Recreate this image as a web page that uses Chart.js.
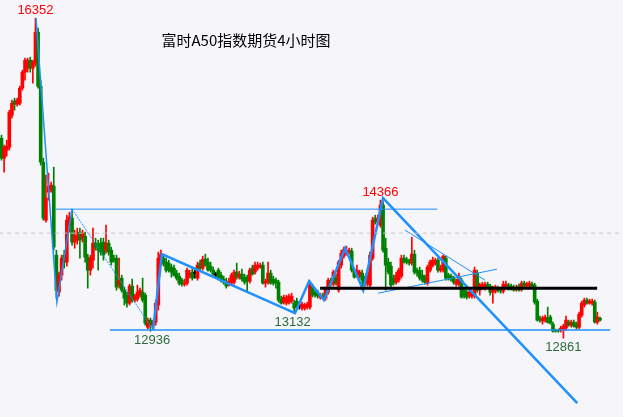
<!DOCTYPE html>
<html>
<head>
<meta charset="utf-8">
<script src="https://cdn.jsdelivr.net/npm/chart.js@4.4.1/dist/chart.umd.min.js"></script>
<style>
  html, body { margin: 0; padding: 0; background: #f5f5fa; }
  #wrap { width: 623px; height: 417px; position: relative; }
</style>
</head>
<body>
<div id="wrap"><canvas id="chart"></canvas></div>
<script>
// 富时A50 4-hour candles (oldest first)
const opens = [
  15042,14824,14912,14944,15293,15446,15413,15424,15588,15763,
  15806,15893,15806,15861,16199,15610,14781,14148,14453,14475,
  14519,13766,13362,13548,13766,13690,14093,14170,13908,13930,
  14017,13951,13973,13744,13602,13711,13897,13875,13897,13908,
  13820,13897,13820,13733,13733,13439,13515,13384,13330,13242,
  13428,13275,13286,13330,13362,13330,12980,13057,13002,13035,
  13221,13711,13733,13690,13679,13635,13624,13570,13537,13493,
  13449,13460,13537,13581,13570,13515,13679,13624,13722,13690,
  13646,13602,13548,13602,13548,13504,13482,13449,13460,13471,
  13581,13526,13559,13526,13526,13482,13624,13581,13624,13646,
  13657,13460,13471,13570,13504,13493,13471,13286,13253,13242,
  13253,13264,13242,13264,13210,13188,13188,13199,13199,13417,
  13362,13351,13308,13319,13297,13362,13482,13449,13515,13384,
  13657,13755,13788,13799,13810,13602,13548,13537,13570,13504,
  13460,13439,13733,14170,14126,14093,14312,13842,13690,13646,
  13515,13471,13493,13537,13733,13722,13700,13679,13777,13602,
  13602,13548,13526,13460,13602,13657,13679,13711,13602,13602,
  13733,13548,13537,13515,13449,13449,13493,13384,13362,13319,
  13319,13319,13570,13384,13417,13406,13449,13428,13362,13373,
  13406,13395,13373,13417,13439,13428,13417,13395,13428,13395,
  13460,13428,13428,13449,13439,13264,13079,13046,13057,13079,
  13090,13013,12948,12948,12948,12948,12970,13035,13002,13035,
  13013,12980,13111,13221,13275,13242,13242,13253,13035,13079
];
const highs = [
  15075,14966,15021,15348,15457,15479,15479,15610,15784,15915,
  15915,15926,15893,16352,16243,15675,14824,14639,14661,14562,
  14726,13820,13581,13766,13820,14202,14235,14268,14039,14060,
  14060,14039,14017,13777,13766,14060,13951,13930,13951,13951,
  14093,13930,13853,13766,13766,13733,13548,13417,13362,13449,
  13504,13340,13439,13406,13515,13351,13079,13079,13057,13275,
  13799,13820,13766,13733,13711,13668,13657,13602,13570,13515,
  13504,13624,13602,13624,13624,13690,13711,13755,13777,13733,
  13690,13635,13581,13624,13581,13537,13515,13515,13570,13602,
  13679,13591,13613,13559,13548,13624,13657,13690,13690,13679,
  13690,13504,13690,13602,13537,13515,13493,13319,13330,13330,
  13340,13351,13275,13297,13242,13253,13242,13253,13482,13449,
  13395,13384,13351,13351,13417,13515,13515,13602,13559,13711,
  13820,13853,13864,13842,13842,13624,13657,13602,13602,13537,
  13602,13799,14181,14202,14202,14366,14344,13951,13733,13690,
  13548,13581,13624,13766,13766,13744,13722,13962,13820,13624,
  13635,13602,13548,13657,13711,13744,13733,13733,13657,13766,
  13755,13570,13559,13537,13504,13570,13515,13417,13384,13384,
  13362,13635,13602,13460,13471,13471,13471,13449,13428,13439,
  13428,13417,13482,13482,13460,13449,13439,13439,13449,13482,
  13482,13471,13482,13471,13460,13286,13101,13101,13111,13199,
  13111,13035,12959,12959,12991,13013,13101,13057,13057,13057,
  13035,13144,13264,13297,13297,13286,13286,13275,13144,13090
];
const lows = [
  14802,14672,14846,14912,15261,15348,15392,15403,15566,15675,
  15763,15763,15643,15828,15588,14748,14148,14126,14366,14453,
  13820,13297,13319,13493,13624,13646,14017,13875,13842,13886,
  13733,13908,13690,13406,13548,13624,13820,13602,13766,13711,
  13788,13766,13657,13690,13384,13406,13362,13221,13199,13221,
  13253,13253,13264,13308,13253,13002,12959,12936,12970,13002,
  13166,13679,13646,13581,13581,13526,13537,13493,13439,13428,
  13428,13439,13515,13493,13515,13493,13602,13602,13646,13591,
  13581,13537,13515,13493,13471,13449,13406,13428,13439,13449,
  13504,13504,13482,13449,13362,13460,13548,13559,13602,13624,
  13449,13417,13449,13449,13439,13406,13253,13231,13231,13221,
  13231,13242,13132,13177,13177,13166,13166,13177,13177,13308,
  13308,13297,13286,13286,13275,13340,13428,13428,13439,13362,
  13624,13733,13766,13777,13581,13515,13526,13515,13384,13428,
  13428,13417,13711,14104,14104,14071,13799,13384,13559,13417,
  13439,13449,13471,13515,13679,13668,13657,13657,13559,13537,
  13493,13471,13449,13439,13581,13635,13657,13581,13581,13581,
  13493,13493,13482,13449,13428,13428,13297,13297,13286,13297,
  13297,13297,13362,13330,13395,13384,13406,13330,13242,13351,
  13362,13351,13351,13395,13384,13384,13373,13373,13373,13373,
  13417,13406,13406,13406,13231,13046,13035,13013,13035,13024,
  13013,12926,12926,12926,12926,12861,12948,12991,12980,12980,
  12959,12959,13090,13199,13231,13231,13221,13024,13013,13046
];
const closes = [
  14824,14944,14955,15326,15424,15413,15457,15588,15763,15893,
  15893,15806,15872,16199,15610,14781,14170,14388,14519,14530,
  13853,13384,13548,13733,13690,14148,14181,13908,13984,13973,
  13930,14006,13744,13602,13733,13897,13853,13820,13799,13766,
  13897,13799,13690,13711,13417,13493,13384,13297,13242,13428,
  13275,13319,13362,13384,13275,13024,13057,13002,13035,13242,
  13733,13777,13668,13602,13602,13581,13548,13515,13460,13449,
  13460,13602,13570,13515,13570,13657,13624,13722,13657,13602,
  13602,13559,13548,13515,13493,13471,13428,13482,13548,13581,
  13526,13559,13504,13471,13482,13602,13559,13657,13657,13657,
  13460,13482,13570,13460,13460,13460,13275,13242,13308,13297,
  13319,13319,13188,13199,13210,13231,13221,13231,13449,13330,
  13330,13319,13330,13297,13395,13493,13449,13581,13460,13690,
  13788,13831,13820,13820,13602,13526,13602,13581,13493,13449,
  13570,13766,14148,14126,14170,14312,13820,13657,13581,13439,
  13460,13548,13602,13733,13690,13690,13679,13777,13581,13570,
  13515,13493,13471,13635,13690,13711,13711,13602,13624,13755,
  13515,13515,13504,13471,13482,13537,13308,13319,13308,13362,
  13340,13602,13384,13439,13449,13449,13417,13362,13406,13417,
  13384,13373,13449,13449,13395,13406,13384,13417,13384,13460,
  13428,13449,13460,13417,13253,13057,13057,13079,13090,13035,
  13024,12937,12937,12937,12970,12991,13057,13002,13035,12991,
  12980,13122,13242,13275,13242,13264,13264,13035,13090,13057
];

// hand-drawn analysis lines (candle index, price)
const waveIdx = [13.2, 21.2, 27.0];
const wavePrice = [16352, 13253, 14268];
const slideIdx = [27.0, 57.6];
const slidePrice = [14268, 12970];
const swingIdx = [58, 61.4, 112.3, 117.7, 123.4, 131.5, 138.4, 146.0, 220.3];
const swingPrice = [12948, 13777, 13133, 13482, 13275, 13842, 13384, 14388, 12151];
const wedgeTopIdx = [154.4, 185.0];
const wedgeTopPrice = [14039, 13493];
const wedgeLowIdx = [144.1, 189.6];
const wedgeLowPrice = [13351, 13613];
const resistIdx = [20.5, 166.7];
const resistPrice = 14268;
const supportIdx = [41.5, 232.9];
const supportPrice = 12948;
const pivotIdx = [121.9, 227.9];
const pivotPrice = 13406;
const refPrice = 14006;

// price labels
const markText = ["16352", "14366", "12936", "13132", "12861"];
const markIdx = [13, 145, 57.6, 111.4, 215];
const markPrice = [16352, 14366, 12936, 13132, 12861];
const markAbove = [true, true, false, false, false];
const chartTitle = "富时A50指数期货4小时图";

const RED = "#ff0000", GREEN = "#008000", BLUE = "#1e90ff";

const candleColor = opens.map((o, i) =>
  closes[i] > o ? RED : (closes[i] < o ? GREEN : "#000000"));

const wicks = opens.map((o, i) => ({ x: i, y: [lows[i], highs[i]] }));
const bodies = opens.map((o, i) => ({ x: i, y: [o, closes[i]] }));

function seg(xs, ps, color, width, dash) {
  return {
    type: "line",
    data: xs.map((x, k) => ({ x: x, y: Array.isArray(ps) ? ps[k] : ps })),
    borderColor: color,
    borderWidth: width,
    borderDash: dash || [],
    pointRadius: 0,
    fill: false,
    tension: 0,
    order: 0
  };
}

const marksPlugin = {
  id: "marks",
  afterDatasetsDraw(chart) {
    const { ctx, scales: { x, y } } = chart;
    ctx.save();
    ctx.textAlign = "center";
    ctx.textBaseline = "middle";
    ctx.font = '13px "Liberation Sans", Arial, sans-serif';
    markText.forEach((t, k) => {
      const px = x.getPixelForValue(markIdx[k]);
      const py = y.getPixelForValue(markPrice[k]) + (markAbove[k] ? -8 : 9);
      ctx.fillStyle = markAbove[k] ? "#ff0000" : "#2b6b3c";
      ctx.fillText(t, px, py);
    });
    ctx.font = '15px "Noto Sans CJK SC", sans-serif';
    ctx.fillStyle = "#000000";
    ctx.fillText(chartTitle, 246, 40);
    ctx.restore();
  }
};

new Chart(document.getElementById("chart"), {
  type: "bar",
  data: {
    datasets: [
      seg([-1, 240], [refPrice, refPrice], "#c4c4c8", 1, [4, 4]),
      seg(resistIdx, [resistPrice, resistPrice], BLUE, 1),
      seg(supportIdx, [supportPrice, supportPrice], BLUE, 1.5),
      seg(pivotIdx, [pivotPrice, pivotPrice], "#000000", 3),
      seg(waveIdx, wavePrice, BLUE, 1.5),
      seg(slideIdx, slidePrice, BLUE, 1, [2, 1]),
      seg(swingIdx, swingPrice, BLUE, 2.5),
      seg(wedgeTopIdx, wedgeTopPrice, BLUE, 1),
      seg(wedgeLowIdx, wedgeLowPrice, BLUE, 1),
      {
        data: wicks,
        backgroundColor: candleColor,
        barThickness: 1,
        grouped: false,
        order: 2
      },
      {
        data: bodies,
        backgroundColor: candleColor,
        barThickness: 3,
        minBarLength: 1,
        grouped: false,
        order: 1
      }
    ]
  },
  options: {
    responsive: true,
    maintainAspectRatio: false,
    animation: false,
    layout: { padding: 0 },
    plugins: { legend: { display: false }, tooltip: { enabled: false } },
    scales: {
      x: { type: "linear", offset: false, min: -0.57, max: 237.8, display: false },
      y: { min: 12000, max: 16550, display: false }
    }
  },
  plugins: [marksPlugin]
});
</script>
</body>
</html>
